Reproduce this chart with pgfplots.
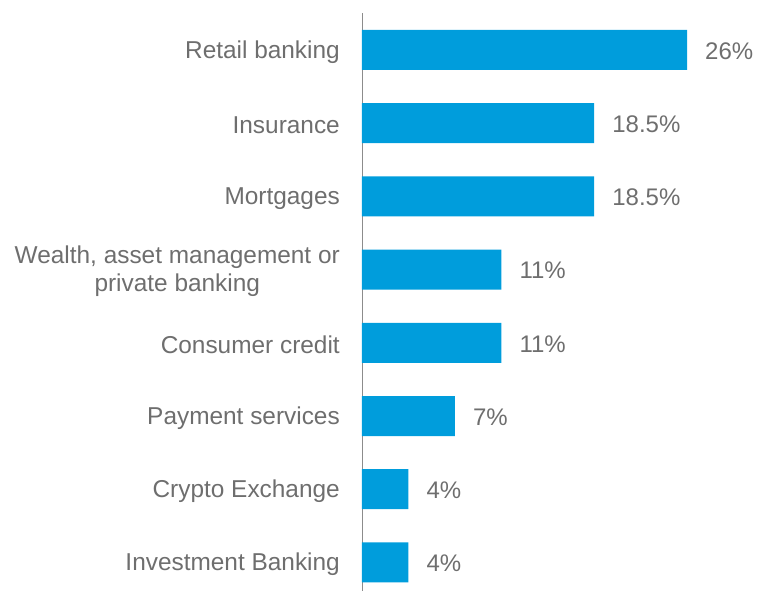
\documentclass[border=0pt]{standalone}
\usepackage{pgfplots}
\pgfplotsset{compat=1.18}
\usepackage{fontspec}
\setmainfont{Liberation Sans}
\definecolor{barblue}{HTML}{009DDC}
\definecolor{txt}{HTML}{6E6E6E}
\definecolor{axgray}{HTML}{8C8C8C}
\begin{document}
\begin{tikzpicture}
\path[use as bounding box] (0,0) rectangle (758pt,-591pt);
\begin{axis}[
  at={(362pt,-13pt)}, anchor=north west,
  scale only axis, width=376.5pt, height=582pt,
  xmin=0, xmax=30, ymin=-0.505, ymax=7.445, y dir=reverse,
  xbar, bar width=40pt, bar shift=0pt,
  axis x line=none, axis y line=left,
  axis line style={-, draw=axgray, line width=0.8pt},
  ytick={0,...,7},
  yticklabels={Retail banking, Insurance, Mortgages, {Wealth, asset management or\\private banking}, Consumer credit, Payment services, Crypto Exchange, Investment Banking},
  major tick length=0pt,
  yticklabel style={align=center, inner sep=0pt, xshift=-22pt, yshift=-2pt, text=txt, font=\fontsize{24.4}{28}\selectfont},
  point meta=explicit symbolic,
  nodes near coords={\pgfplotspointmeta},
  nodes near coords style={anchor=west, inner sep=0pt, xshift=18pt, yshift=-1pt, text=txt, font=\fontsize{24}{28}\selectfont},
  clip=false,
]
\addplot[fill=barblue, draw=none] coordinates {
  (25.9,0) [26\%]
  (18.5,1) [18.5\%]
  (18.5,2) [18.5\%]
  (11.1,3) [11\%]
  (11.1,4) [11\%]
  (7.4,5) [7\%]
  (3.7,6) [4\%]
  (3.7,7) [4\%]
};
\end{axis}
\end{tikzpicture}
\end{document}
